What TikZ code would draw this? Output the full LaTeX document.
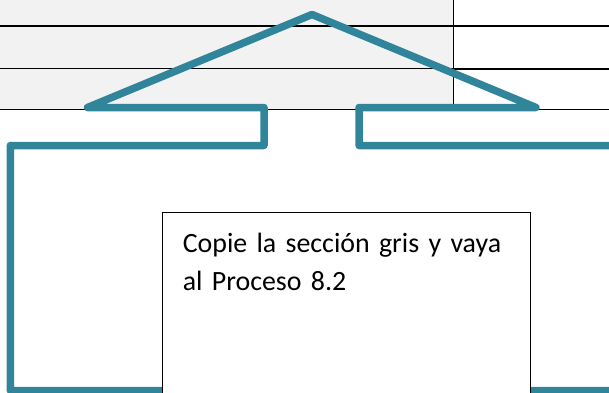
\documentclass[tikz,border=0pt]{standalone}
\usepackage{fontspec}
\setmainfont{Carlito}
\definecolor{tealline}{RGB}{49,133,155}
\definecolor{cellgray}{RGB}{242,242,242}
\begin{document}
\begin{tikzpicture}[x=1pt,y=-1pt,
    rule/.style={black,line width=1.6pt},
    thinrule/.style={black,line width=1pt},
    arrowline/.style={tealline,line width=7.5pt,line join=round,line cap=round},
    notebox/.style={draw=black,line width=1.3pt,fill=white,outer sep=0pt,
        inner xsep=20.4pt,inner ysep=0pt,text width=327pt,align=left,
        text height=39.9pt,text depth=200pt,
        font=\fontsize{27.9}{37.3}\selectfont}]
    \useasboundingbox (0,0) rectangle (609,392);
    \clip (0,0) rectangle (609,392);
    % grey table section
    \fill[cellgray] (0,0) rectangle (453.6,109.3);
    \draw[rule] (0,25.7) -- (609,25.7);
    \draw[thinrule] (0,68.7) -- (453.6,68.7);
    \draw[rule] (453.6,68.7) -- (609,68.7);
    \draw[rule] (0,109.3) -- (609,109.3);
    \draw[rule] (453.6,0) -- (453.6,109.3);
    % arrow outline
    \draw[arrowline] (625,145.5) -- (359,145.5) -- (359,107.5) -- (536,107.5)
        -- (312,14.5) -- (87.5,107.5) -- (264,107.5) -- (264,145.5)
        -- (10.3,145.5) -- (10.3,390.5) -- (625,390.5);
    % note
    \node[notebox,anchor=north west] (note) at (162.4,212.8)
        {Copie la sección gris y vaya\\al Proceso 8.2};
\end{tikzpicture}
\end{document}
